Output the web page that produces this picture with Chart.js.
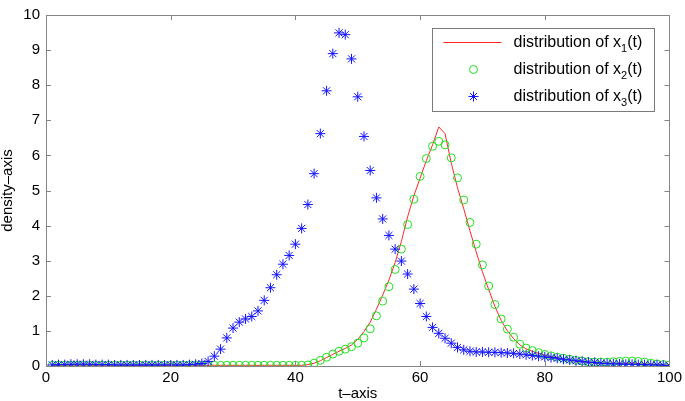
<!DOCTYPE html>
<html lang="en">
<head>
<meta charset="UTF-8">
<title>distribution density</title>
<script src="https://cdn.jsdelivr.net/npm/chart.js"></script>
<style>
    html, body { margin: 0; padding: 0; background: #fff; }
</style>
</head>
<body>
<canvas id="chart" width="685" height="401"></canvas>
<script>
    // t values (one sample per unit)
    const tValues = [1,2,3,4,5,6,7,8,9,10,11,12,13,14,15,16,17,18,19,20,
        21,22,23,24,25,26,27,28,29,30,31,32,33,34,35,36,37,38,39,40,
        41,42,43,44,45,46,47,48,49,50,51,52,53,54,55,56,57,58,59,60,
        61,62,63,64,65,66,67,68,69,70,71,72,73,74,75,76,77,78,79,80,
        81,82,83,84,85,86,87,88,89,90,91,92,93,94,95,96,97,98,99,100];

    // distribution of x1(t) - red line
    const densityX1 = [0.02,0.02,0.02,0.02,0.02,0.02,0.02,0.02,0.02,0.02,
        0.02,0.02,0.02,0.02,0.02,0.02,0.02,0.02,0.02,0.02,
        0.02,0.02,0.02,0.02,0.02,0.02,0.02,0.02,0.02,0.02,
        0.02,0.02,0.02,0.02,0.02,0.02,0.02,0.02,0.02,0.02,
        0.02,0.04,0.08,0.15,0.24,0.33,0.42,0.50,0.60,0.76,
        0.98,1.25,1.62,2.02,2.45,2.95,3.55,4.25,4.85,5.35,
        5.85,6.30,6.81,6.62,5.78,5.08,4.48,3.85,3.25,2.68,
        2.18,1.70,1.30,1.00,0.78,0.60,0.49,0.42,0.36,0.31,
        0.27,0.23,0.20,0.17,0.14,0.12,0.10,0.09,0.08,0.08,
        0.08,0.08,0.08,0.08,0.07,0.06,0.05,0.04,0.03,0.02];

    // distribution of x2(t) - green circles
    const densityX2 = [0.02,0.02,0.02,0.02,0.02,0.02,0.02,0.02,0.02,0.02,
        0.02,0.02,0.02,0.02,0.02,0.02,0.02,0.02,0.02,0.02,
        0.02,0.02,0.02,0.02,0.02,0.02,0.02,0.02,0.02,0.02,
        0.02,0.02,0.02,0.02,0.02,0.02,0.02,0.02,0.02,0.02,
        0.02,0.03,0.08,0.16,0.25,0.34,0.42,0.48,0.55,0.65,
        0.80,1.06,1.43,1.85,2.26,2.75,3.33,4.03,4.75,5.40,
        5.91,6.26,6.40,6.30,5.93,5.36,4.73,4.09,3.47,2.88,
        2.28,1.75,1.34,1.05,0.82,0.62,0.51,0.44,0.38,0.33,
        0.29,0.25,0.22,0.19,0.16,0.14,0.12,0.11,0.11,0.11,
        0.12,0.13,0.14,0.14,0.13,0.11,0.08,0.06,0.04,0.03];

    // distribution of x3(t) - blue stars
    const densityX3 = [0.03,0.04,0.04,0.05,0.05,0.05,0.05,0.04,0.04,0.04,
        0.03,0.03,0.03,0.03,0.03,0.03,0.03,0.03,0.03,0.03,
        0.03,0.03,0.04,0.05,0.07,0.13,0.28,0.48,0.80,1.08,
        1.25,1.34,1.41,1.57,1.87,2.23,2.60,2.90,3.15,3.47,
        3.92,4.60,5.48,6.62,7.84,8.90,9.49,9.44,8.75,7.67,
        6.54,5.57,4.79,4.19,3.72,3.33,2.99,2.62,2.19,1.78,
        1.41,1.10,0.93,0.79,0.65,0.53,0.46,0.42,0.40,0.40,
        0.39,0.39,0.38,0.37,0.36,0.34,0.32,0.30,0.28,0.26,
        0.24,0.22,0.19,0.17,0.15,0.13,0.11,0.10,0.08,0.07,
        0.06,0.06,0.05,0.05,0.04,0.04,0.03,0.03,0.02,0.01];

    const seriesLabels = ['distribution of x_1(t)', 'distribution of x_2(t)', 'distribution of x_3(t)'];
    const xTicks = [0, 20, 40, 60, 80, 100];
    const yTicks = [0, 1, 2, 3, 4, 5, 6, 7, 8, 9, 10];

    const toPoints = (ys) => ys.map((y, i) => ({ x: tValues[i], y: y }));
    const FONT = 'Liberation Sans, Arial, Helvetica, sans-serif';
    const FRAME = '#858585';

    // matlab style box with inward ticks on all four sides
    const boxTicks = {
        id: 'boxTicks',
        afterDraw(chart) {
            const ctx = chart.ctx, a = chart.chartArea;
            const sx = chart.scales.x, sy = chart.scales.y;
            ctx.save();
            ctx.strokeStyle = FRAME;
            ctx.lineWidth = 1;
            ctx.beginPath();
            ctx.moveTo(Math.round(a.left) + 0.5, Math.round(a.bottom) + 0.5);
            ctx.lineTo(Math.round(a.left) + 0.5, Math.round(a.top) + 0.5);
            ctx.lineTo(Math.round(a.right) + 0.5, Math.round(a.top) + 0.5);
            ctx.lineTo(Math.round(a.right) + 0.5, Math.round(a.bottom) + 0.5);
            ctx.closePath();
            xTicks.forEach(v => {
                const px = Math.round(sx.getPixelForValue(v)) + 0.5;
                ctx.moveTo(px, a.bottom); ctx.lineTo(px, a.bottom - 5);
                ctx.moveTo(px, a.top); ctx.lineTo(px, a.top + 5);
            });
            yTicks.forEach(v => {
                const py = Math.round(sy.getPixelForValue(v)) + 0.5;
                ctx.moveTo(a.left, py); ctx.lineTo(a.left + 5, py);
                ctx.moveTo(a.right, py); ctx.lineTo(a.right - 5, py);
            });
            ctx.stroke();
            ctx.restore();
        }
    };

    // legend box with subscripts
    const subLegend = {
        id: 'subLegend',
        afterDraw(chart) {
            const ctx = chart.ctx, a = chart.chartArea;
            const w = 222, h = 83;
            const x0 = Math.round(a.right - 15 - w) + 0.5, y0 = Math.round(a.top + 13) + 0.5;
            ctx.save();
            ctx.fillStyle = '#fff';
            ctx.fillRect(x0, y0, w, h);
            ctx.strokeStyle = '#7a7a7a';
            ctx.lineWidth = 1;
            ctx.strokeRect(x0, y0, w, h);

            chart.data.datasets.forEach((ds, i) => {
                const cy = y0 + 14 + i * 27;
                ctx.strokeStyle = ds.borderColor;
                ctx.fillStyle = ds.borderColor;
                if (ds.showLine) {
                    ctx.lineWidth = ds.borderWidth;
                    ctx.beginPath();
                    ctx.moveTo(x0 + 11, cy);
                    ctx.lineTo(x0 + 69, cy);
                    ctx.stroke();
                } else {
                    ctx.fillStyle = 'rgba(0,0,0,0)';
                    ctx.lineWidth = ds.pointBorderWidth;
                    Chart.helpers.drawPoint(ctx, {
                        pointStyle: ds.pointStyle,
                        radius: ds.pointRadius,
                        rotation: 0,
                        borderWidth: ds.pointBorderWidth
                    }, x0 + 41, cy);
                }
                // text: main part, subscript, rest
                const parts = ds.label.split('_');
                const main = parts[0];
                const sub = parts[1].charAt(0);
                const rest = parts[1].slice(1);
                let tx = x0 + 81;
                ctx.fillStyle = '#000';
                ctx.textBaseline = 'middle';
                ctx.font = '16px ' + FONT;
                ctx.fillText(main, tx, cy);
                tx += ctx.measureText(main).width;
                ctx.font = '11px ' + FONT;
                ctx.fillText(sub, tx, cy + 6);
                tx += ctx.measureText(sub).width;
                ctx.font = '16px ' + FONT;
                ctx.fillText(rest, tx, cy);
            });
            ctx.restore();
        }
    };

    const ctx = document.getElementById('chart').getContext('2d');
    const chart = new Chart(ctx, {
        type: 'scatter',
        data: {
            datasets: [
                {
                    label: seriesLabels[0],
                    data: toPoints(densityX1),
                    showLine: true,
                    borderColor: 'rgb(255, 40, 40)',
                    borderWidth: 1,
                    pointRadius: 0,
                    order: 3,
                },
                {
                    label: seriesLabels[1],
                    data: toPoints(densityX2),
                    showLine: false,
                    borderColor: 'rgb(30, 225, 30)',
                    backgroundColor: 'rgba(0,0,0,0)',
                    pointStyle: 'circle',
                    pointRadius: 4,
                    pointBorderWidth: 1,
                    order: 2,
                },
                {
                    label: seriesLabels[2],
                    data: toPoints(densityX3),
                    showLine: false,
                    borderColor: 'rgb(20, 20, 255)',
                    backgroundColor: 'rgb(20, 20, 255)',
                    pointStyle: 'star',
                    pointRadius: 5,
                    pointBorderWidth: 1,
                    order: 1,
                },
            ],
        },
        options: {
            responsive: false,
            animation: false,
            layout: { padding: { left: 0, right: 13, top: 6, bottom: 0 } },
            plugins: {
                legend: { display: false },
                tooltip: { enabled: false },
            },
            scales: {
                x: {
                    type: 'linear',
                    min: 0,
                    max: 100,
                    afterFit: (scale) => { scale.height = 35; },
                    afterBuildTicks: (scale) => { scale.ticks = xTicks.map(v => ({ value: v })); },
                    grid: { display: false, drawTicks: false },
                    border: { display: false },
                    ticks: { color: '#000', font: { family: FONT, size: 15 }, padding: 3, maxRotation: 0 },
                    title: { display: true, text: 't\u2013axis', color: '#000', font: { family: FONT, size: 15, lineHeight: 1 }, padding: 0 },
                },
                y: {
                    type: 'linear',
                    min: 0,
                    max: 10,
                    afterFit: (scale) => { scale.width = 46; },
                    afterBuildTicks: (scale) => { scale.ticks = yTicks.map(v => ({ value: v })); },
                    grid: { display: false, drawTicks: false },
                    border: { display: false },
                    ticks: { color: '#000', font: { family: FONT, size: 15 }, padding: 6 },
                    title: { display: true, text: 'density\u2013axis', color: '#000', font: { family: FONT, size: 15, lineHeight: 1 }, padding: 0 },
                },
            },
        },
        plugins: [boxTicks, subLegend],
    });
</script>
</body>
</html>
